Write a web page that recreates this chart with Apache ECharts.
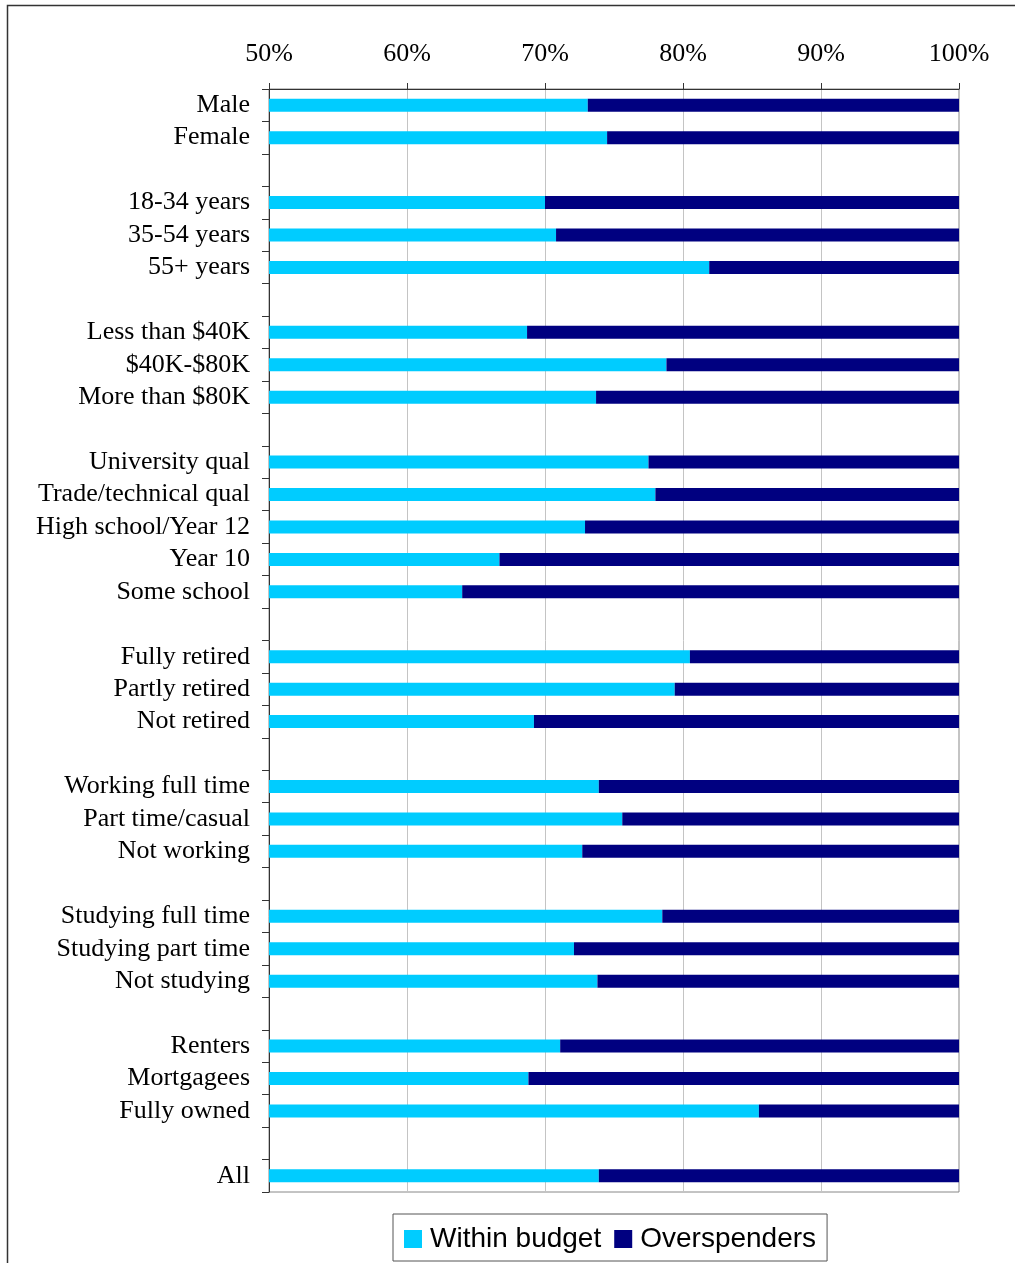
<!DOCTYPE html>
<html>
<head>
<meta charset="utf-8">
<script src="https://cdn.jsdelivr.net/npm/echarts@6/dist/echarts.min.js"></script>
<style>
html,body{margin:0;padding:0;background:#fff;}
#chart{width:1015px;height:1263px;}
</style>
</head>
<body>
<div id="chart"></div>
<script>
var categories = [
  'Male','Female','',
  '18-34 years','35-54 years','55+ years','',
  'Less than $40K','$40K-$80K','More than $80K','',
  'University qual','Trade/technical qual','High school/Year 12','Year 10','Some school','',
  'Fully retired','Partly retired','Not retired','',
  'Working full time','Part time/casual','Not working','',
  'Studying full time','Studying part time','Not studying','',
  'Renters','Mortgagees','Fully owned','',
  'All'
];
var withinBudget = [
  73.1, 74.5, null,
  70.0, 70.8, 81.9, null,
  68.7, 78.8, 73.7, null,
  77.5, 78.0, 72.9, 66.7, 64.0, null,
  80.5, 79.4, 69.2, null,
  73.9, 75.6, 72.7, null,
  78.5, 72.1, 73.8, null,
  71.1, 68.8, 85.5, null,
  73.9
];
var overspenders = withinBudget.map(function (v) { return v == null ? null : +(100 - v).toFixed(1); });
var xTicks = { min: 50, max: 100, step: 10 };
var seriesNames = ['Within budget', 'Overspenders'];

var chart = echarts.init(document.getElementById('chart'), null, { renderer: 'canvas' });
chart.setOption({
  backgroundColor: '#fff',
  animation: false,
  color: ['#00CCFF', '#000080'],
  graphic: [{
    type: 'rect',
    shape: { x: 7.5, y: 5.5, width: 1200, height: 1400 },
    style: { fill: 'none', stroke: '#333', lineWidth: 1.5 },
    silent: true,
    z: -1
  }],
  grid: {
    left: 269, right: 56, top: 89, bottom: 71,
    show: true, borderColor: '#888', borderWidth: 1, backgroundColor: 'transparent'
  },
  legend: {
    data: seriesNames,
    left: 393, top: 1214,
    orient: 'horizontal',
    itemWidth: 18, itemHeight: 18,
    itemGap: 13,
    padding: [11, 11, 8, 11],
    borderColor: '#555', borderWidth: 1,
    icon: 'rect',
    textStyle: { fontFamily: 'Liberation Sans', fontSize: 28, color: '#000', padding: [0, 0, 0, 3] }
  },
  xAxis: {
    type: 'value',
    position: 'top',
    min: xTicks.min, max: xTicks.max, interval: xTicks.step,
    axisLine: { show: true, lineStyle: { color: '#333', width: 1 } },
    axisTick: { show: true, length: 6, lineStyle: { color: '#333' } },
    axisLabel: {
      formatter: '{value}%', margin: 22,
      fontFamily: 'Liberation Serif', fontSize: 26, color: '#000'
    },
    splitLine: { show: true, lineStyle: { color: '#c4c4c4', width: 1 } }
  },
  yAxis: {
    type: 'category',
    inverse: true,
    data: categories,
    axisLine: { show: true, lineStyle: { color: '#333', width: 1 } },
    axisTick: { show: true, length: 7, alignWithLabel: false, lineStyle: { color: '#333' } },
    axisLabel: {
      interval: 0, margin: 19,
      fontFamily: 'Liberation Serif', fontSize: 26, color: '#000',
      padding: [6, 0, 0, 0]
    },
    splitLine: { show: false }
  },
  series: [
    { name: seriesNames[0], type: 'bar', stack: 'total', barWidth: 13, clip: true, data: withinBudget },
    { name: seriesNames[1], type: 'bar', stack: 'total', barWidth: 13, clip: true, data: overspenders }
  ]
});
</script>
</body>
</html>
